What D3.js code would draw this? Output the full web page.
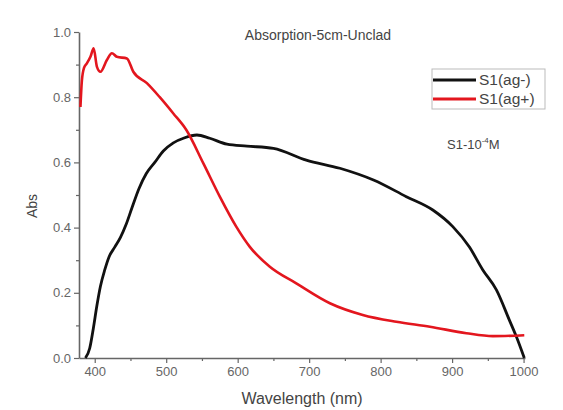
<!DOCTYPE html>
<html>
<head>
<meta charset="utf-8">
<script src="https://cdn.jsdelivr.net/npm/d3@7"></script>
<style>
  body { margin: 0; background: #fff; }
  svg { font-family: "Liberation Sans", Arial, sans-serif; }
</style>
</head>
<body>
<div id="chart"></div>
<script>
// values
let blackNm  = [387, 393, 398, 403, 408, 414, 420, 428, 436, 444, 452, 462, 472, 484, 496, 510, 525, 543, 561, 585, 613, 650, 696, 743, 790, 836, 873, 901, 924, 943, 962, 980, 990, 1001];
let blackAbs = [0, 0.03, 0.09, 0.16, 0.22, 0.27, 0.31, 0.34, 0.37, 0.41, 0.46, 0.52, 0.565, 0.60, 0.635, 0.66, 0.675, 0.684, 0.674, 0.656, 0.650, 0.643, 0.607, 0.582, 0.546, 0.495, 0.454, 0.403, 0.341, 0.27, 0.209, 0.117, 0.065, 0];

let redNm  = [380, 382, 385, 389, 394, 398.5, 403, 408, 417, 424, 431, 445, 454, 473, 491, 510, 528, 552, 575, 598, 617, 645, 682, 729, 775, 822, 869, 920, 957, 1001];
let redAbs = [0.77, 0.85, 0.89, 0.904, 0.924, 0.95, 0.894, 0.878, 0.914, 0.935, 0.924, 0.919, 0.878, 0.843, 0.80, 0.75, 0.70, 0.597, 0.495, 0.403, 0.341, 0.28, 0.229, 0.168, 0.132, 0.111, 0.096, 0.076, 0.067, 0.07];

let seriesNames = ["S1(ag-)", "S1(ag+)"];
let seriesColors = ["#111111", "#e3161e"];

let xTicks = [400, 500, 600, 700, 800, 900, 1000];
let xMinor = [450, 550, 650, 750, 850, 950];
let yTicks = [0, 0.2, 0.4, 0.6, 0.8, 1.0];
let yMinor = [0.1, 0.3, 0.5, 0.7, 0.9];

let width = 563, height = 410;

let svg = d3.select("#chart").append("svg").attr("width", width).attr("height", height);

let x = d3.scaleLinear().domain([378, 1002]).range([79, 525]);
let y = d3.scaleLinear().domain([0, 1]).range([358, 32]);

// axes
let axisColor = "#666";
svg.append("g").attr("transform", "translate(0,358)")
    .call(d3.axisBottom(x).tickValues(xTicks).tickFormat(d3.format("d")).tickSize(5).tickPadding(4).tickSizeOuter(0));
svg.append("g").attr("transform", "translate(0,358)")
    .call(d3.axisBottom(x).tickValues(xMinor).tickSize(3).tickFormat("").tickSizeOuter(0))
    .select(".domain").remove();
svg.append("g").attr("transform", "translate(79,0)")
    .call(d3.axisLeft(y).tickValues(yTicks).tickFormat(d3.format(".1f")).tickSize(5).tickPadding(3).tickSizeOuter(0));
svg.append("g").attr("transform", "translate(79,0)")
    .call(d3.axisLeft(y).tickValues(yMinor).tickSize(3).tickFormat("").tickSizeOuter(0))
    .select(".domain").remove();

svg.selectAll(".domain").attr("stroke", axisColor).attr("stroke-width", 1.6);
svg.selectAll(".tick line").attr("stroke", axisColor).attr("stroke-width", 1.2);
svg.selectAll(".tick text").attr("fill", "#666").style("font-size", "13px");

// curves
let line = d3.line().x(d => x(d[0])).y(d => y(d[1])).curve(d3.curveMonotoneX);
let blackData = blackNm.map((v, i) => [v, blackAbs[i]]);
let redData = redNm.map((v, i) => [v, redAbs[i]]);

svg.append("path").datum(blackData).attr("d", line)
    .attr("fill", "none").attr("stroke", seriesColors[0]).attr("stroke-width", 2.8).attr("stroke-linejoin", "round");
svg.append("path").datum(redData).attr("d", line)
    .attr("fill", "none").attr("stroke", seriesColors[1]).attr("stroke-width", 2.6).attr("stroke-linejoin", "round");

// title
svg.append("text").attr("x", 318).attr("y", 40).attr("text-anchor", "middle")
    .style("font-size", "14px").attr("fill", "#444").text("Absorption-5cm-Unclad");

// legend
let legend = svg.append("g");
legend.append("rect").attr("x", 432).attr("y", 69).attr("width", 113).attr("height", 40)
    .attr("fill", "none").attr("stroke", "#bbb").attr("stroke-width", 1);
seriesNames.forEach((n, i) => {
  let ly = 80 + i * 19;
  legend.append("line").attr("x1", 433).attr("x2", 476).attr("y1", ly).attr("y2", ly)
      .attr("stroke", seriesColors[i]).attr("stroke-width", 3);
  legend.append("text").attr("x", 479).attr("y", ly + 5).style("font-size", "15.5px")
      .attr("fill", "#444").text(n);
});

// annotation
let ann = svg.append("text").attr("x", 447).attr("y", 149).style("font-size", "13px").attr("fill", "#444");
ann.append("tspan").text("S1-10");
ann.append("tspan").attr("dy", -6).style("font-size", "8px").text("-4");
ann.append("tspan").attr("dy", 6).text("M");

// axis titles
svg.append("text").attr("transform", "translate(37,206) rotate(-90)").attr("text-anchor", "middle")
    .style("font-size", "14px").attr("fill", "#444").text("Abs");
svg.append("text").attr("x", 302).attr("y", 404).attr("text-anchor", "middle")
    .style("font-size", "16px").attr("fill", "#444").text("Wavelength (nm)");
</script>
</body>
</html>
